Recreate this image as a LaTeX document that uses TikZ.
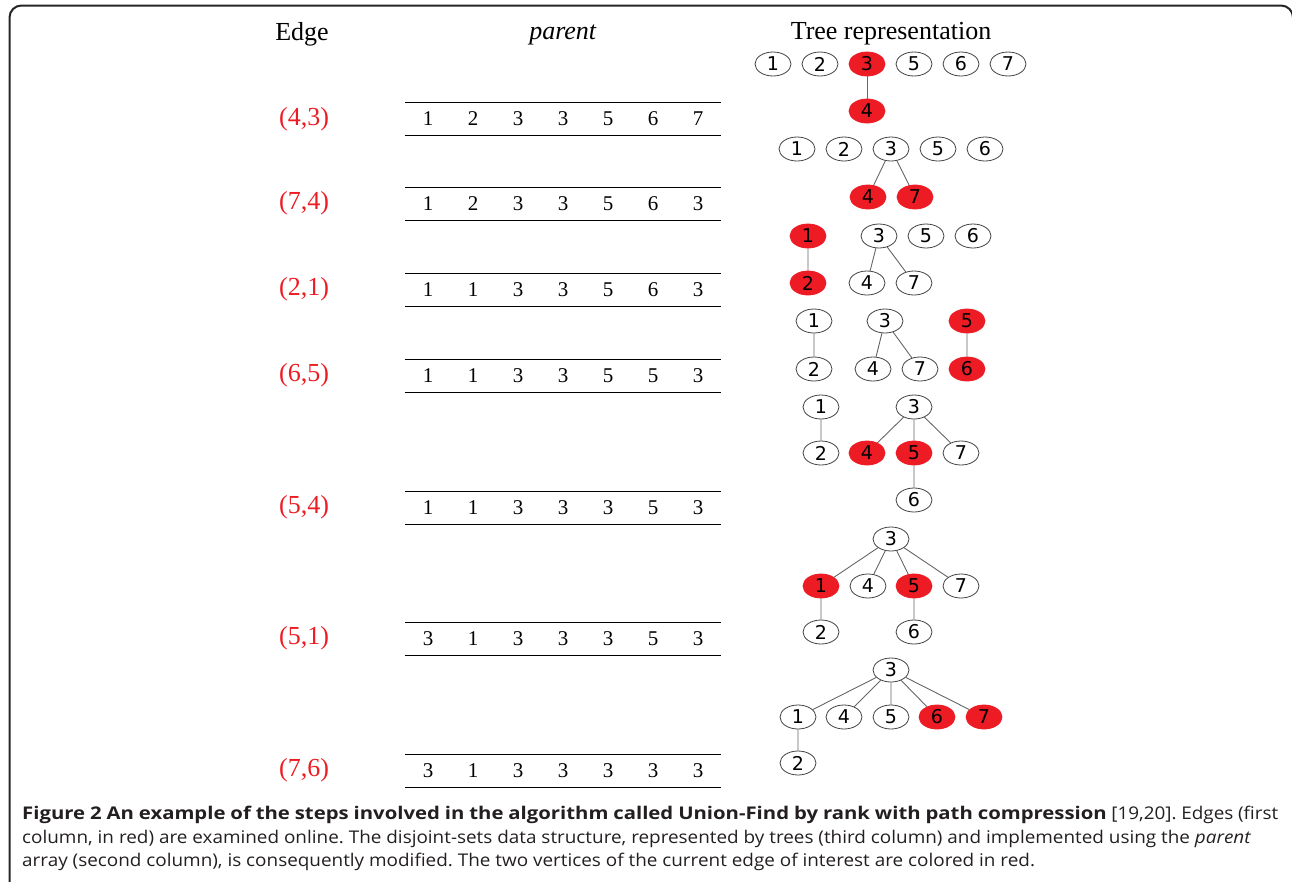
\documentclass[tikz,border=0pt]{standalone}
\usepackage{fontspec}
\setmainfont{Liberation Serif}
\newfontfamily\vertexfont{DejaVu Sans}
\newfontfamily\captionfont[UprightFeatures={FakeStretch=1.08}, ItalicFeatures={FakeStretch=1.08}, BoldFeatures={FakeStretch=1.16}]{Open Sans}
\usetikzlibrary{shapes.geometric}
\definecolor{edgered}{RGB}{237,28,36}
\definecolor{captiongray}{RGB}{35,31,32}
\frenchspacing

\begin{document}
\begin{tikzpicture}[x=1pt, y=-1pt,
    head/.style={font=\fontsize{26}{30}\selectfont},
    edge label/.style={font=\fontsize{26}{30}\selectfont, text=edgered},
    cell/.style={font=\fontsize{21}{24}\selectfont, inner sep=0pt},
    main node/.style={ellipse, draw=black!75, line width=0.8pt, minimum width=36pt, minimum height=24pt, inner sep=0pt, font=\vertexfont\fontsize{19}{20}\selectfont},
    red node/.style={main node, fill=edgered, draw=edgered},
    tree edge/.style={draw=black!60, line width=0.9pt},
    cap line/.style={anchor=base west, inner sep=0pt, font=\captionfont\fontsize{17.5}{24}\selectfont, text=captiongray}]

\useasboundingbox (0,0) rectangle (1292,881);
\clip (0,0) rectangle (1292,881);
\draw[line width=2pt, black!85, rounded corners=12pt] (9.5,900) -- (9.5,5.5) -- (1293,5.5) -- (1293,900);

% column heads
\node[head] (edgehead) at (302,34) {Edge};
\node[head] (parenthead) at (563,35) {\textit{parent}};
\node[head] (treehead) at (891,34) {Tree representation};

% parent array after each edge
\foreach \r/\y/\e/\vals in {1/119/{4,3}/{1,2,3,3,5,6,7}, 2/203.5/{7,4}/{1,2,3,3,5,6,3},
    3/289.5/{2,1}/{1,1,3,3,5,6,3}, 4/375.5/{6,5}/{1,1,3,3,5,5,3}, 5/507.5/{5,4}/{1,1,3,3,3,5,3},
    6/638.5/{5,1}/{3,1,3,3,3,5,3}, 7/770.5/{7,6}/{3,1,3,3,3,3,3}}{
  \node[edge label] (edge\r) at (304,\y) {(\e)};
  \draw[line width=1pt] (405,\y-16.5) -- (721,\y-16.5);
  \draw[line width=1pt] (405,\y+16.5) -- (721,\y+16.5);
  \foreach \v [count=\c] in \vals
    \node[cell] (row\r c\c) at (383+45*\c,\y) {\v};
}

% step 1: (4,3)
\node[main node] (s1v1) at (773,64) {1};
\node[main node] (s1v2) at (820,64) {2};
\node[red node]  (s1v3) at (867,64) {3};
\node[main node] (s1v5) at (914,64) {5};
\node[main node] (s1v6) at (961,64) {6};
\node[main node] (s1v7) at (1008,64) {7};
\node[red node]  (s1v4) at (867,111) {4};
\draw[tree edge] (s1v3) -- (s1v4);

% step 2: (7,4)
\node[main node] (s2v1) at (797,149) {1};
\node[main node] (s2v2) at (844,149) {2};
\node[main node] (s2v3) at (891,149) {3};
\node[main node] (s2v5) at (938,149) {5};
\node[main node] (s2v6) at (985,149) {6};
\node[red node]  (s2v4) at (868,197) {4};
\node[red node]  (s2v7) at (915,197) {7};
\draw[tree edge] (s2v3) -- (s2v4) (s2v3) -- (s2v7);

% step 3: (2,1)
\node[red node]  (s3v1) at (808,236) {1};
\node[main node] (s3v3) at (879,236) {3};
\node[main node] (s3v5) at (926,236) {5};
\node[main node] (s3v6) at (973,236) {6};
\node[red node]  (s3v2) at (808,283) {2};
\node[main node] (s3v4) at (867,283) {4};
\node[main node] (s3v7) at (914,283) {7};
\draw[tree edge] (s3v1) -- (s3v2) (s3v3) -- (s3v4) (s3v3) -- (s3v7);

% step 4: (6,5)
\node[main node] (s4v1) at (814,321) {1};
\node[main node] (s4v3) at (885,321) {3};
\node[red node]  (s4v5) at (967,321) {5};
\node[main node] (s4v2) at (814,369) {2};
\node[main node] (s4v4) at (873,369) {4};
\node[main node] (s4v7) at (920,369) {7};
\node[red node]  (s4v6) at (967,369) {6};
\draw[tree edge] (s4v1) -- (s4v2) (s4v3) -- (s4v4) (s4v3) -- (s4v7) (s4v5) -- (s4v6);

% step 5: (5,4)
\node[main node] (s5v1) at (821,407) {1};
\node[main node] (s5v3) at (914,407) {3};
\node[main node] (s5v2) at (821,453) {2};
\node[red node]  (s5v4) at (867,453) {4};
\node[red node]  (s5v5) at (914,453) {5};
\node[main node] (s5v7) at (961,453) {7};
\node[main node] (s5v6) at (914,500) {6};
\draw[tree edge] (s5v1) -- (s5v2) (s5v3) -- (s5v4) (s5v3) -- (s5v5) (s5v3) -- (s5v7) (s5v5) -- (s5v6);

% step 6: (5,1)
\node[main node] (s6v3) at (891,539) {3};
\node[red node]  (s6v1) at (821,586) {1};
\node[main node] (s6v4) at (868,586) {4};
\node[red node]  (s6v5) at (914,586) {5};
\node[main node] (s6v7) at (961,586) {7};
\node[main node] (s6v2) at (821,632) {2};
\node[main node] (s6v6) at (914,632) {6};
\draw[tree edge] (s6v3) -- (s6v1) (s6v3) -- (s6v4) (s6v3) -- (s6v5) (s6v3) -- (s6v7)
    (s6v1) -- (s6v2) (s6v5) -- (s6v6);

% step 7: (7,6)
\node[main node] (s7v3) at (891,670) {3};
\node[main node] (s7v1) at (798,717) {1};
\node[main node] (s7v4) at (844,717) {4};
\node[main node] (s7v5) at (891,717) {5};
\node[red node]  (s7v6) at (937,717) {6};
\node[red node]  (s7v7) at (984,717) {7};
\node[main node] (s7v2) at (798,763) {2};
\draw[tree edge] (s7v3) -- (s7v1) (s7v3) -- (s7v4) (s7v3) -- (s7v5) (s7v3) -- (s7v6) (s7v3) -- (s7v7)
    (s7v1) -- (s7v2);

% caption
\node[cap line] (cap1) at (22,819) {\hbox to 1256pt{\bfseries Figure 2 An example of the steps involved in the algorithm called Union-Find by rank with path compression\mdseries\ [19,20]. Edges (first}};
\node[cap line] (cap2) at (22,843) {column, in red) are examined online. The disjoint-sets data structure, represented by trees (third column) and implemented using the \textit{parent}};
\node[cap line] (cap3) at (22,866) {array (second column), is consequently modified. The two vertices of the current edge of interest are colored in red.};
\end{tikzpicture}
\end{document}
